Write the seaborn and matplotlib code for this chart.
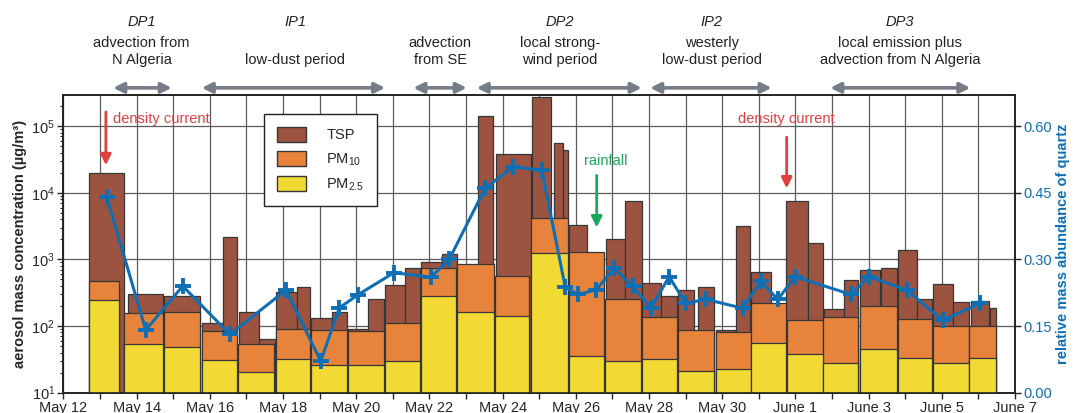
import numpy as np
import pandas as pd
import seaborn as sns
import matplotlib.pyplot as plt
from matplotlib.patches import Patch

# time axis in "day of May" (June 1 = 32)
tsp_start = [12.71, 13.77, 14.76, 15.78, 16.35, 16.80, 17.33, 17.80, 18.39, 18.77, 19.33,
             19.77, 20.33, 20.79, 21.33, 21.77, 22.33, 23.34, 23.82, 24.79, 25.41, 25.66,
             25.81, 26.82, 27.34, 27.80, 28.32, 28.78, 29.35, 29.82, 30.38, 30.78, 31.73,
             32.33, 32.78, 33.33, 33.75, 34.33, 34.80, 35.31, 35.77, 36.31, 36.79, 37.32]
tsp_end = [13.66, 14.73, 15.73, 16.35, 16.75, 17.33, 17.78, 18.37, 18.74, 19.33, 19.76,
           20.33, 20.76, 21.33, 21.74, 22.33, 22.75, 23.73, 24.78, 25.32, 25.66, 25.78,
           26.31, 27.33, 27.80, 28.32, 28.76, 29.23, 29.78, 30.35, 30.76, 31.33, 32.33,
           32.76, 33.33, 33.72, 34.31, 34.77, 35.31, 35.74, 36.31, 36.75, 37.30, 37.48]
tsp = [19500, 300, 284, 110, 2190, 160, 65, 324, 390, 130, 162,
       91, 252, 415, 748, 914, 1200, 141000, 38000, 270000, 55000, 43600,
       3260, 2050, 7450, 437, 279, 343, 390, 88, 3180, 648, 7450,
       1780, 180, 484, 690, 733, 1365, 252, 421, 227, 237, 184]

pm_start = [12.71, 13.66, 14.76, 15.78, 16.78, 17.80, 18.77, 19.77, 20.79, 21.77, 22.76, 23.79, 24.77,
            25.81, 26.80, 27.80, 28.78, 29.82, 30.78, 31.76, 32.76, 33.75, 34.80, 35.77, 36.75]
pm_end = [13.52, 14.73, 15.73, 16.73, 17.75, 18.74, 19.74, 20.76, 21.74, 22.72, 23.77, 24.73, 25.78,
          26.77, 27.77, 28.76, 29.78, 30.78, 31.74, 32.74, 33.72, 34.77, 35.74, 36.75, 37.48]
pm10 = [479, 155, 160, 83, 54, 89, 87, 84, 110, 733, 850, 564, 4170,
        1300, 252, 138, 87, 80, 224, 123, 135, 200, 126, 101, 101]
pm25 = [245, 54, 48, 31, 20.7, 31.7, 26, 26, 30, 284, 160, 141, 1230,
        35.9, 29.9, 32, 21, 22.4, 55, 37.7, 28.2, 46, 32.8, 27.6, 32.8]

quartz_day = [13.18, 14.25, 15.26, 16.55, 18.08, 19.03, 19.54, 20.04, 21.03, 22.04, 22.54,
              23.52, 24.28, 25.07, 25.71, 26.05, 26.55, 27.05, 27.55, 28.05, 28.55, 29.00,
              29.56, 30.56, 31.05, 31.52, 31.99, 33.52, 34.01, 35.04, 36.02, 37.04]
quartz = [0.441, 0.141, 0.240, 0.131, 0.231, 0.071, 0.191, 0.220, 0.270, 0.260, 0.300,
          0.460, 0.508, 0.501, 0.238, 0.221, 0.231, 0.280, 0.240, 0.190, 0.261, 0.201,
          0.210, 0.190, 0.251, 0.210, 0.261, 0.221, 0.261, 0.231, 0.163, 0.201]

tick_days = list(range(12, 39))
tick_labels = ["May 12", "", "May 14", "", "May 16", "", "May 18", "", "May 20", "",
               "May 22", "", "May 24", "", "May 26", "", "May 28", "", "May 30", "",
               "June 1", "", "June 3", "", "June 5", "", "June 7"]

# periods: label, line1, line2, center, arrow start, arrow end
period_tag = ["DP1", "IP1", "", "DP2", "IP2", "DP3"]
period_line1 = ["advection from", "", "advection", "local strong-", "westerly", "local emission plus"]
period_line2 = ["N Algeria", "low-dust period", "from SE", "wind period", "low-dust period",
                "advection from N Algeria"]
period_mid = [14.14, 18.33, 22.29, 25.57, 29.71, 34.86]
period_from = [13.36, 15.78, 21.56, 23.29, 28.03, 32.95]
period_to = [14.96, 20.79, 23.02, 27.80, 31.35, 36.78]

c_tsp = "#9c5441"
c_pm10 = "#e8833b"
c_pm25 = "#f2d933"
c_blue = "#0f6fb5"
c_edge = "#363636"

sns.set_style("ticks")
plt.rcParams['font.family'] = ['Liberation Sans', 'DejaVu Sans']
plt.rcParams['mathtext.fontset'] = 'custom'
plt.rcParams['mathtext.rm'] = 'Liberation Sans'
plt.rcParams['mathtext.it'] = 'Liberation Sans:italic'
plt.rcParams['mathtext.bf'] = 'Liberation Sans:bold'
plt.rcParams['font.size'] = 10.5

fig = plt.figure(figsize=(10.73, 4.13), dpi=100)
ax = fig.add_axes([0.0591, 0.0492, 0.8869, 0.7208])
ax.set_yscale('log')
top_dec = 0.67 / 0.15
ax.set_ylim(10, 10 ** (1 + top_dec))
ax.set_xlim(12, 38)

tsp_w = np.array(tsp_end) - np.array(tsp_start)
pm_w = np.array(pm_end) - np.array(pm_start)
ax.bar(tsp_start, np.array(tsp) - 1, width=tsp_w, bottom=1, align='edge',
       color=c_tsp, edgecolor=c_edge, linewidth=0.9, zorder=2)
ax.bar(pm_start, np.array(pm10) - 1, width=pm_w, bottom=1, align='edge',
       color=c_pm10, edgecolor=c_edge, linewidth=0.9, zorder=3)
ax.bar(pm_start, np.array(pm25) - 1, width=pm_w, bottom=1, align='edge',
       color=c_pm25, edgecolor=c_edge, linewidth=0.9, zorder=4)

ax.set_xticks(tick_days)
ax.set_xticklabels(tick_labels)
ax.grid(True, which='major', axis='both', color='#5c5c5c', linewidth=0.9)
ax.set_axisbelow(True)
ax.tick_params(axis='both', which='major', direction='out', length=4, width=1, labelsize=10.5, pad=2)
ax.tick_params(axis='y', which='minor', direction='out', length=2, width=0.8)
ax.set_ylabel("aerosol mass concentration (µg/m³)", fontweight='bold', fontsize=10.5, labelpad=3)
for s in ax.spines.values():
    s.set_color('#222222')
    s.set_linewidth(1.2)

handles = [Patch(facecolor=c_tsp, edgecolor=c_edge),
           Patch(facecolor=c_pm10, edgecolor=c_edge),
           Patch(facecolor=c_pm25, edgecolor=c_edge)]
leg = ax.legend(handles, ["TSP", "PM$_{10}$", "PM$_{2.5}$"], loc='upper left',
                bbox_to_anchor=(0.211, 0.935), borderaxespad=0, fancybox=False,
                framealpha=1, edgecolor='#222222', fontsize=10.5, handlelength=2.0,
                handleheight=1.2, labelspacing=0.6, handletextpad=1.4,
                borderpad=0.85)
leg.get_frame().set_linewidth(1.0)
leg.set_zorder(10)

ax2 = ax.twinx()
ax2.set_ylim(0, 0.67)
sns.lineplot(x=quartz_day, y=quartz, ax=ax2, color=c_blue, linewidth=2.2,
             marker='+', markersize=12, markeredgewidth=2.8, markeredgecolor=c_blue)
ax2.set_yticks(np.arange(0, 0.61, 0.15))
ax2.set_yticklabels([f"{v:.2f}" for v in np.arange(0, 0.61, 0.15)])
ax2.tick_params(axis='y', direction='out', length=4, width=1, colors='#222222',
                labelcolor=c_blue, labelsize=10.5, pad=2)
ax2.set_ylabel("relative mass abundance of quartz", color=c_blue, fontweight='bold',
               fontsize=10.5, labelpad=3)
for s in ax2.spines.values():
    s.set_color('#222222')
    s.set_linewidth(1.2)

# event annotations
red = "#e2403c"
green = "#1aa85c"
ax2.annotate("", xy=(13.16, 0.512), xytext=(13.16, 0.632),
             arrowprops=dict(arrowstyle='-|>', color=red, lw=2, mutation_scale=16, shrinkA=0, shrinkB=0))
ax2.text(13.36, 0.617, "density current", color=red, ha='left', va='center', fontsize=10.5)
ax2.annotate("", xy=(31.76, 0.460), xytext=(31.76, 0.575),
             arrowprops=dict(arrowstyle='-|>', color=red, lw=2, mutation_scale=16, shrinkA=0, shrinkB=0))
ax2.text(31.76, 0.617, "density current", color=red, ha='center', va='center', fontsize=10.5)
ax2.annotate("", xy=(26.57, 0.372), xytext=(26.57, 0.489),
             arrowprops=dict(arrowstyle='-|>', color=green, lw=2, mutation_scale=16, shrinkA=0, shrinkB=0))
ax2.text(26.83, 0.521, "rainfall", color=green, ha='center', va='center', fontsize=10.5)

# period headers above the plot
trans = ax.get_xaxis_transform()
gray = "#777d86"
for tag, l1, l2, mid, a, b in zip(period_tag, period_line1, period_line2,
                                  period_mid, period_from, period_to):
    ax.text(mid, 1.246, tag, transform=trans, ha='center', va='center',
            fontstyle='italic', fontsize=10.5, color='#222222')
    ax.text(mid, 1.176, l1, transform=trans, ha='center', va='center', fontsize=10.5, color='#222222')
    ax.text(mid, 1.118, l2, transform=trans, ha='center', va='center', fontsize=10.5, color='#222222')
    ax.annotate("", xy=(b, 1.024), xytext=(a, 1.024), xycoords=trans, textcoords=trans,
                annotation_clip=False,
                arrowprops=dict(arrowstyle='<|-|>', color=gray, lw=2.6, mutation_scale=15,
                                shrinkA=0, shrinkB=0))

fig.savefig("out.png", dpi=100)
